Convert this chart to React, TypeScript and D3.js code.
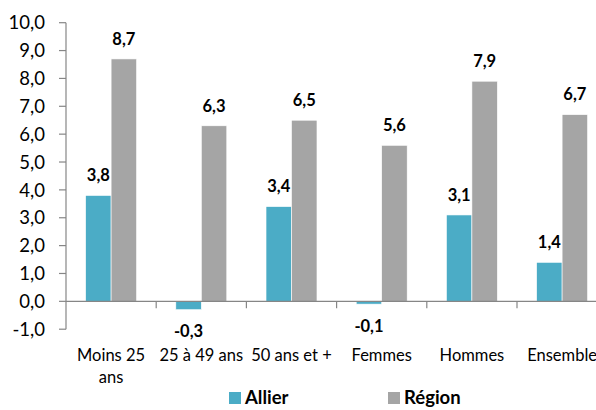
import React, { useRef, useEffect } from 'react';
import * as d3 from 'd3';

const categories = [['Moins 25', 'ans'], ['25 à 49 ans'], ['50 ans et +'], ['Femmes'], ['Hommes'], ['Ensemble']];
const seriesNames = ['Allier', 'Région'];
const allierValues = [3.8, -0.3, 3.4, -0.1, 3.1, 1.4];
const regionValues = [8.7, 6.3, 6.5, 5.6, 7.9, 6.7];
const seriesColors = ['#4BACC6', '#A5A5A5'];
const yTicks = [-1, 0, 1, 2, 3, 4, 5, 6, 7, 8, 9, 10];

const FONT = 'Lato, Carlito, "Liberation Sans", sans-serif';

const App: React.FC = () => {
  const svgRef = useRef<SVGSVGElement>(null);
  const width = 596;
  const height = 410;

  useEffect(() => {
    if (!svgRef.current) return;
    const svg = d3.select(svgRef.current);
    svg.selectAll('*').remove();

    const left = 66;
    const step = 90.2;
    // french decimal comma, plain hyphen for negatives
    const fmt = (v: number) => v.toFixed(1).replace('.', ',');

    const y = d3.scaleLinear().domain([-1, 10]).range([329.2, 22.7]);

    const x0 = d3.scaleBand<number>()
      .domain(categories.map((_, i) => i))
      .range([left, left + step * categories.length])
      .padding(0);

    const x1 = d3.scaleBand<string>()
      .domain(seriesNames)
      .range([0, x0.bandwidth()])
      .paddingInner(0)
      .paddingOuter(0.77);

    const g = svg.append('g');

    // bars + value labels
    const series = [allierValues, regionValues];
    series.forEach((vals, si) => {
      g.selectAll(`.bar-${si}`)
        .data(vals)
        .enter()
        .append('rect')
        .attr('x', (_, i) => (x0(i) || 0) + (x1(seriesNames[si]) || 0))
        .attr('y', d => y(Math.max(d, 0)))
        .attr('width', x1.bandwidth())
        .attr('height', d => Math.abs(y(d) - y(0)))
        .attr('fill', seriesColors[si])
        .attr('stroke', '#fff')
        .attr('stroke-width', 0.6);

      g.selectAll(`.label-${si}`)
        .data(vals)
        .enter()
        .append('text')
        .attr('x', (_, i) => (x0(i) || 0) + (x1(seriesNames[si]) || 0) + x1.bandwidth() / 2)
        .attr('y', d => d >= 0 ? y(d) - 20 : y(d) + 22)
        .attr('dy', '0.35em')
        .attr('text-anchor', 'middle')
        .style('font-family', FONT)
        .style('font-size', '16.5px')
        .style('font-weight', 'bold')
        .style('fill', '#000')
        .text(d => fmt(d));
    });

    const axisColor = '#868686';

    // y axis
    g.append('line')
      .attr('x1', left).attr('x2', left)
      .attr('y1', y(10)).attr('y2', y(-1))
      .attr('stroke', axisColor).attr('stroke-width', 1.2);

    g.selectAll('.ytick')
      .data(yTicks)
      .enter()
      .append('line')
      .attr('x1', left - 7).attr('x2', left)
      .attr('y1', d => y(d)).attr('y2', d => y(d))
      .attr('stroke', axisColor).attr('stroke-width', 1.2);

    g.selectAll('.ylabel')
      .data(yTicks)
      .enter()
      .append('text')
      .attr('x', 45)
      .attr('y', d => y(d))
      .attr('dy', '0.36em')
      .attr('text-anchor', 'end')
      .style('font-family', FONT)
      .style('font-size', '18.5px')
      .style('fill', '#000')
      .text(d => fmt(d));

    // category axis at zero
    g.append('line')
      .attr('x1', left).attr('x2', left + step * categories.length)
      .attr('y1', y(0)).attr('y2', y(0))
      .attr('stroke', axisColor).attr('stroke-width', 1.2);

    g.selectAll('.xtick')
      .data(categories.map((_, i) => i).slice(1))
      .enter()
      .append('line')
      .attr('x1', d => x0(d) || 0).attr('x2', d => x0(d) || 0)
      .attr('y1', y(0)).attr('y2', y(0) + 7)
      .attr('stroke', axisColor).attr('stroke-width', 1.2);

    const catLabels = g.selectAll('.xlabel')
      .data(categories)
      .enter()
      .append('text')
      .attr('x', (_, i) => (x0(i) || 0) + x0.bandwidth() / 2)
      .attr('y', 355)
      .attr('text-anchor', 'middle')
      .style('font-family', FONT)
      .style('font-size', '16.5px')
      .style('fill', '#000');

    catLabels.each(function (lines, i) {
      const t = d3.select(this);
      const cx = (x0(i) || 0) + x0.bandwidth() / 2;
      lines.forEach((line, li) => {
        t.append('tspan')
          .attr('x', cx)
          .attr('dy', li === 0 ? '0.35em' : '22')
          .text(line);
      });
    });

    // legend
    const legendItems = [
      { name: seriesNames[0], color: seriesColors[0], x: 229 },
      { name: seriesNames[1], color: seriesColors[1], x: 388 },
    ];
    const legend = svg.append('g');
    legendItems.forEach(item => {
      legend.append('rect')
        .attr('x', item.x).attr('y', 392)
        .attr('width', 12).attr('height', 12)
        .attr('fill', item.color);
      legend.append('text')
        .attr('x', item.x + 16).attr('y', 398)
        .attr('dy', '0.35em')
        .style('font-family', FONT)
        .style('font-size', '18.5px')
        .style('font-weight', 'bold')
        .style('fill', '#000')
        .text(item.name);
    });
  }, []);

  return (
    <svg
      ref={svgRef}
      width={width}
      height={height}
      style={{ position: 'absolute', left: 0, top: 0, overflow: 'hidden', background: '#fff' }}
      viewBox={`0 0 ${width} ${height}`}
    />
  );
};

export default App;
